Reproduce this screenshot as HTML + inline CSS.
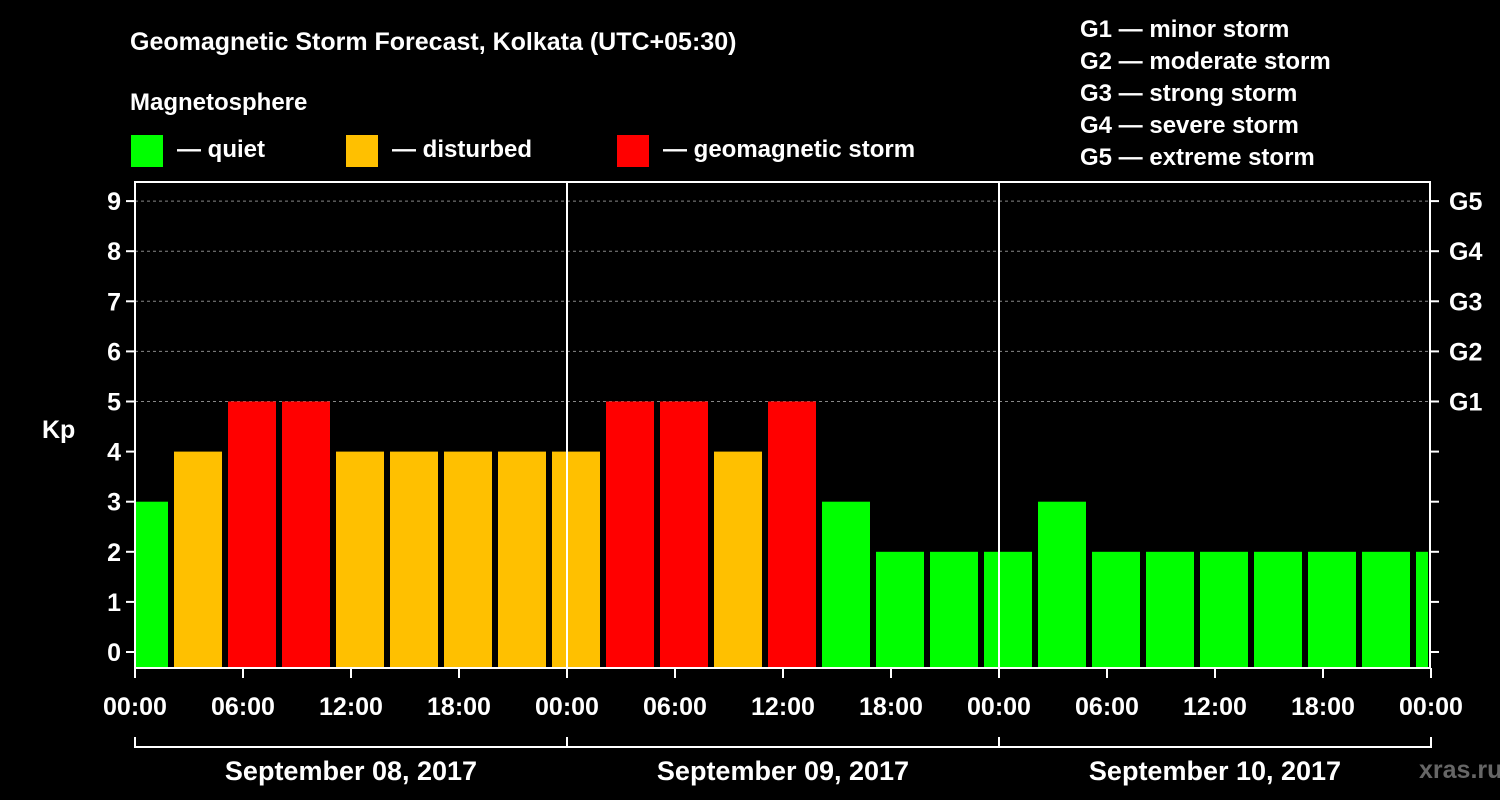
<!DOCTYPE html>
<html><head><meta charset="utf-8">
<style>
html,body{margin:0;padding:0;background:#000;}
svg{display:block;font-family:"Liberation Sans",sans-serif;font-weight:bold;}
</style></head><body>
<svg id="chart" width="1500" height="800" viewBox="0 0 1500 800" xmlns="http://www.w3.org/2000/svg">
<rect x="0" y="0" width="1500" height="800" fill="#000"/>
<text x="130" y="50" fill="#fff" font-size="25">Geomagnetic Storm Forecast, Kolkata (UTC+05:30)</text>
<text x="130" y="110" fill="#fff" font-size="24">Magnetosphere</text>
<g><rect x="131" y="135" width="32" height="32" fill="#00ff00"/><text x="177" y="157" fill="#fff" font-size="24">— quiet</text></g>
<g><rect x="346" y="135" width="32" height="32" fill="#ffc000"/><text x="392" y="157" fill="#fff" font-size="24">— disturbed</text></g>
<g><rect x="617" y="135" width="32" height="32" fill="#ff0000"/><text x="663" y="157" fill="#fff" font-size="24">— geomagnetic storm</text></g>
<g fill="#fff" font-size="24">
<text x="1080" y="37">G1 — minor storm</text>
<text x="1080" y="69">G2 — moderate storm</text>
<text x="1080" y="101">G3 — strong storm</text>
<text x="1080" y="133">G4 — severe storm</text>
<text x="1080" y="165">G5 — extreme storm</text>
</g>
<text x="42" y="438" fill="#fff" font-size="25">Kp</text>
<text x="1419" y="778" fill="#666" font-size="25">xras.ru</text>
<g id="grid"></g><g id="bars"></g><g id="axes"></g>
</svg>
<script>
const kpValues=[3,4,5,5,4,4,4,4,4,5,5,4,5,3,2,2,2,3,2,2,2,2,2,2,2];
const yTicks=[0,1,2,3,4,5,6,7,8,9];
const gLabels=["G1","G2","G3","G4","G5"];
const xTickLabels=["00:00","06:00","12:00","18:00","00:00","06:00","12:00","18:00","00:00","06:00","12:00","18:00","00:00"];
const dayLabels=["September 08, 2017","September 09, 2017","September 10, 2017"];
const NS="http://www.w3.org/2000/svg";
const X0=135,X1=1430,PX_H=18,TOP=182,BOT=668;
function xh(h){return X0+h*PX_H;}
function yv(v){return 652-v*50.1;}
function mk(t,a,p){const e=document.createElementNS(NS,t);for(const k in a)e.setAttribute(k,a[k]);p.appendChild(e);return e;}
function color(v){return v>=5?"#ff0000":v>=4?"#ffc000":"#00ff00";}
const bars=document.getElementById("bars"),grid=document.getElementById("grid"),axes=document.getElementById("axes");
kpValues.forEach((v,i)=>{
  let s=xh(-1+3*i)+3,e=xh(2+3*i)-3;
  s=Math.max(s,X0);e=Math.min(e,X1-2);
  const r=mk("rect",{x:s,y:yv(v),width:e-s,height:BOT-yv(v),fill:color(v)},bars);
  
  
});
for(let g=5;g<=9;g++){
  const l=mk("line",{x1:X0,x2:X1,y1:yv(g),y2:yv(g),stroke:"#888","stroke-dasharray":"3,3","stroke-width":1},grid);
  
  
}
mk("rect",{x:X0,y:TOP,width:X1-X0,height:BOT-TOP,fill:"none",stroke:"#fff","stroke-width":2},axes);
[24,48].forEach(h=>{const l=mk("line",{x1:xh(h),x2:xh(h),y1:TOP,y2:BOT,stroke:"#fff","stroke-width":2},axes);});
yTicks.forEach(v=>{
  mk("line",{x1:X0-9,x2:X0,y1:yv(v),y2:yv(v),stroke:"#fff","stroke-width":2},axes);
  mk("line",{x1:X1,x2:X1+9,y1:yv(v),y2:yv(v),stroke:"#fff","stroke-width":2},axes);
  const t=mk("text",{x:X0-14,y:yv(v)+9,fill:"#fff","font-size":25,"text-anchor":"end"},axes);t.textContent=v;
  
  
});
gLabels.forEach((g,i)=>{
  const t=mk("text",{x:1449,y:yv(5+i)+9,fill:"#fff","font-size":25},axes);t.textContent=g;
  
  
});
xTickLabels.forEach((s,i)=>{
  const x=xh(i*6);
  mk("line",{x1:x,x2:x,y1:BOT,y2:BOT+10,stroke:"#fff","stroke-width":2},axes);
  const t=mk("text",{x:x,y:715,fill:"#fff","font-size":25,"text-anchor":"middle"},axes);t.textContent=s;
  
  
});
mk("line",{x1:X0,x2:X1,y1:747,y2:747,stroke:"#fff","stroke-width":2},axes);
[0,24,48,72].forEach(h=>mk("line",{x1:xh(h),x2:xh(h),y1:737,y2:748,stroke:"#fff","stroke-width":2},axes));
dayLabels.forEach((d,i)=>{
  const t=mk("text",{x:xh(12+24*i),y:780,fill:"#fff","font-size":27,"text-anchor":"middle"},axes);t.textContent=d;
  
  
});
</script>
</body></html>
